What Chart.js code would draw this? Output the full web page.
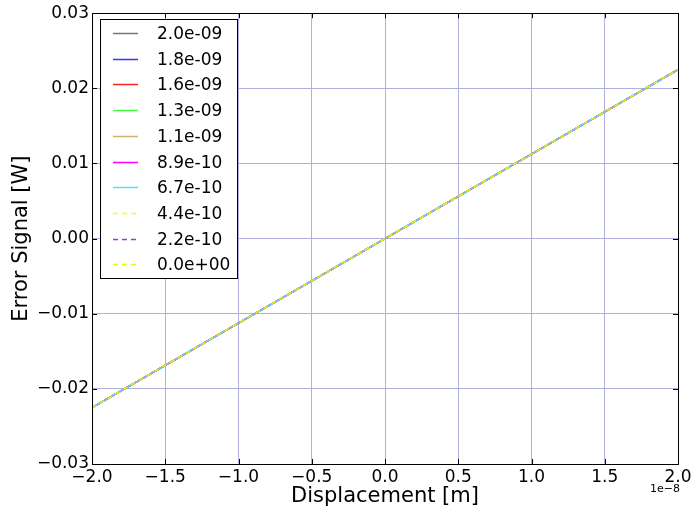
<!DOCTYPE html>
<html lang="en">
<head>
  <meta charset="UTF-8"/>
  <title>Error Signal vs Displacement</title>
  <script src="https://cdn.jsdelivr.net/npm/chart.js"></script>
  <style>
    html, body { margin: 0; padding: 0; background: #fff; }
    #wrap { width: 695px; height: 513px; }
  </style>
</head>
<body>
  <div id="wrap"><canvas id="chart" width="695" height="513"></canvas></div>
  <script>
    // displacement samples (m)
    const xVals = [-2e-8, -1e-8, 0, 1e-8, 2e-8]
    // legend labels (one per curve)
    const labels = ['2.0e-09', '1.8e-09', '1.6e-09', '1.3e-09', '1.1e-09',
      '8.9e-10', '6.7e-10', '4.4e-10', '2.2e-10', '0.0e+00']
    // error signal (W); all curves overlap
    const s0 = [-0.0225, -0.01125, 0, 0.01125, 0.0225]
    const s1 = [-0.0225, -0.01125, 0, 0.01125, 0.0225]
    const s2 = [-0.0225, -0.01125, 0, 0.01125, 0.0225]
    const s3 = [-0.0225, -0.01125, 0, 0.01125, 0.0225]
    const s4 = [-0.0225, -0.01125, 0, 0.01125, 0.0225]
    const s5 = [-0.0225, -0.01125, 0, 0.01125, 0.0225]
    const s6 = [-0.0225, -0.01125, 0, 0.01125, 0.0225]
    const s7 = [-0.0225, -0.01125, 0, 0.01125, 0.0225]
    const s8 = [-0.0225, -0.01125, 0, 0.01125, 0.0225]
    const s9 = [-0.0225, -0.01125, 0, 0.01125, 0.0225]
    const series = [s0, s1, s2, s3, s4, s5, s6, s7, s8, s9]

    const colors = ['#777777', '#3535ff', '#ff2020', '#44ff44', '#d4b070',
      '#ff00ff', '#55ddff', '#ffff00', '#9933ff', '#ddff00']
    const dashed = [false, false, false, false, false, false, false, true, true, true]

    const FONT = 'DejaVu Sans'
    const minus = s => s.replace('-', '\u2212')

    // later curves are drawn on top, as in the original
    const datasets = series.map((ys, i) => ({
      label: labels[i],
      data: ys.map((y, j) => ({ x: xVals[j], y })),
      borderColor: colors[i],
      borderWidth: 1.5,
      borderDash: dashed[i] ? [5, 4] : [],
      pointRadius: 0,
      fill: false,
      tension: 0,
      order: series.length - i
    }))

    const extras = {
      id: 'extras',
      afterDatasetsDraw(chart) {
        const { ctx, chartArea: a, scales } = chart
        ctx.save()
        // inward ticks
        ctx.strokeStyle = '#000'
        ctx.lineWidth = 1
        ctx.beginPath()
        scales.x.ticks.forEach(t => {
          const px = Math.round(scales.x.getPixelForValue(t.value)) + 0.5
          ctx.moveTo(px, a.bottom); ctx.lineTo(px, a.bottom - 5)
          ctx.moveTo(px, a.top); ctx.lineTo(px, a.top + 5)
        })
        scales.y.ticks.forEach(t => {
          const py = Math.round(scales.y.getPixelForValue(t.value)) + 0.5
          ctx.moveTo(a.left, py); ctx.lineTo(a.left + 5, py)
          ctx.moveTo(a.right, py); ctx.lineTo(a.right - 5, py)
        })
        ctx.stroke()
        // frame
        ctx.strokeRect(Math.round(a.left) + 0.5, Math.round(a.top) + 0.5,
          Math.round(a.right - a.left), Math.round(a.bottom - a.top))

        // legend box
        const lx = 100, ly = 19, lw = 137, lh = 259, step = 25.7
        ctx.fillStyle = '#fff'
        ctx.fillRect(lx, ly, lw, lh)
        ctx.strokeStyle = '#000'
        ctx.strokeRect(lx + 0.5, ly + 0.5, lw, lh)
        ctx.font = '17px "' + FONT + '"'
        ctx.textBaseline = 'middle'
        ctx.textAlign = 'left'
        chart.data.datasets.forEach((ds, i) => {
          const y = Math.round(ly + 14 + i * step) + 0.5
          ctx.strokeStyle = ds.borderColor
          ctx.lineWidth = 1.5
          ctx.setLineDash(ds.borderDash)
          ctx.beginPath()
          ctx.moveTo(113, y); ctx.lineTo(138, y)
          ctx.stroke()
          ctx.setLineDash([])
          ctx.fillStyle = '#000'
          ctx.fillText(ds.label, 157, y + 1)
        })

        // offset label for x axis
        ctx.font = '11px "' + FONT + '"'
        ctx.textAlign = 'right'
        ctx.fillStyle = '#000'
        ctx.fillText('1e\u22128', 680, 489)
        ctx.restore()
      }
    }

    new Chart(document.getElementById('chart').getContext('2d'), {
      type: 'line',
      data: { datasets },
      options: {
        responsive: false,
        animation: false,
        layout: { padding: { top: 11, right: 17, left: 0, bottom: 0 } },
        plugins: { legend: { display: false }, tooltip: { enabled: false } },
        scales: {
          x: {
            type: 'linear',
            min: -2e-8,
            max: 2e-8,
            afterFit: s => { s.height = 49 },
            grid: { color: '#b0b0e0', drawTicks: false },
            border: { display: false },
            ticks: {
              stepSize: 0.5e-8,
              padding: 3,
              maxRotation: 0,
              color: '#000',
              font: { family: FONT, size: 17 },
              callback: v => {
                const n = v / 1e-8
                return minus((Math.abs(n) < 1e-9 ? 0 : n).toFixed(1))
              }
            },
            title: {
              display: true,
              text: 'Displacement [m]',
              color: '#000',
              font: { family: FONT, size: 21 },
              padding: { top: 0, bottom: 4 }
            }
          },
          y: {
            min: -0.03,
            max: 0.03,
            afterFit: s => { s.width = 92 },
            grid: { color: '#b0b0e0', drawTicks: false },
            border: { display: false },
            ticks: {
              stepSize: 0.01,
              padding: 3,
              color: '#000',
              font: { family: FONT, size: 17 },
              callback: v => minus((Math.abs(v) < 1e-12 ? 0 : v).toFixed(2))
            },
            title: {
              display: true,
              text: 'Error Signal [W]',
              color: '#000',
              font: { family: FONT, size: 21 },
              padding: { top: 9, bottom: 0 }
            }
          }
        }
      },
      plugins: [extras]
    })
  </script>
</body>
</html>
